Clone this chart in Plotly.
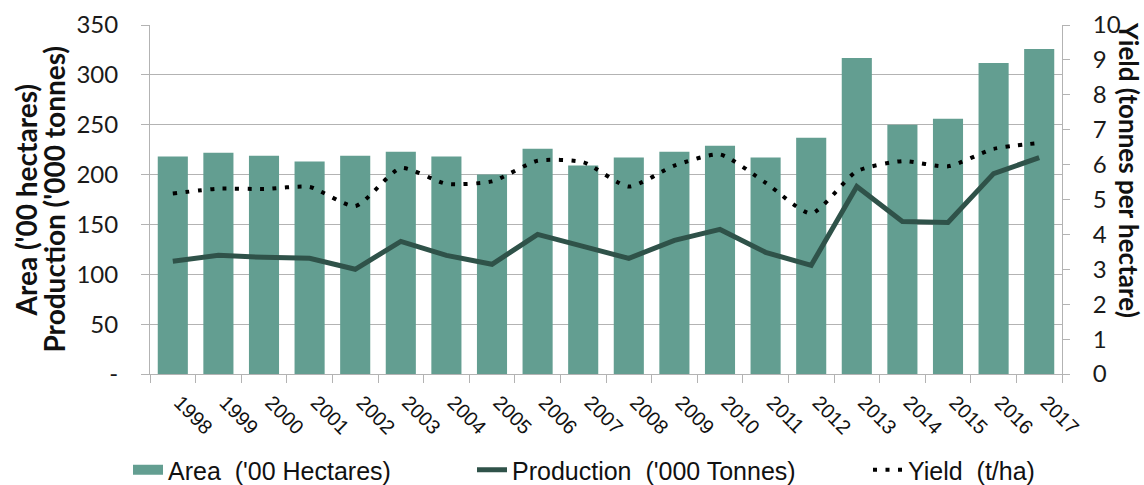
import plotly.graph_objects as go

# Annual series, 1998-2017
years = [str(y) for y in range(1998, 2018)]
area = [218, 222, 219, 213, 219, 223, 218, 200, 226, 209,
        217, 223, 229, 217, 237, 317, 250, 256, 312, 326]
production = [113, 119, 117, 116, 105, 133, 119, 110, 140, 128,
              116, 134, 145, 122, 109, 188, 153, 152, 201, 217]
yield_tha = [5.17, 5.31, 5.30, 5.36, 4.81, 5.90, 5.45, 5.52, 6.11, 6.07,
             5.37, 5.97, 6.29, 5.48, 4.60, 5.81, 6.10, 5.95, 6.45, 6.62]

left_ticks = [0, 50, 100, 150, 200, 250, 300, 350]
left_ticktext = ["-", "50", "100", "150", "200", "250", "300", "350"]
right_ticks = list(range(0, 11))

BAR_COLOR = "#639e91"
PROD_COLOR = "#2f5249"
GRID = "#b3b3b3"
LATO = "Lato, Noto Sans, sans-serif"
ARIAL = "Liberation Sans, Arial, sans-serif"
AXIS_FONT = dict(family=LATO, size=24, color="#1a1a1a")
TITLE_FONT = dict(family=LATO, size=28, color="#111111", weight="bold")
LEGEND_FONT = dict(family=ARIAL, size=25, color="#111111")

fig = go.Figure()

fig.add_trace(go.Bar(
    x=years, y=area, name="Area  ('00 Hectares)",
    marker=dict(color=BAR_COLOR, line=dict(width=0)),
    yaxis="y", legendgroup="area", showlegend=False,
))
# wide flat swatch for the area entry in the legend
fig.add_trace(go.Scatter(
    x=[None], y=[None], name="Area  ('00 Hectares)",
    mode="lines", line=dict(color=BAR_COLOR, width=13),
    legendgroup="area", legend="legend",
))
fig.add_trace(go.Scatter(
    x=years, y=production, name="Production  ('000 Tonnes)",
    mode="lines", line=dict(color=PROD_COLOR, width=5),
    yaxis="y", legend="legend2",
))
fig.add_trace(go.Scatter(
    x=years, y=yield_tha, name="Yield  (t/ha)",
    mode="lines", line=dict(color="#000000", width=4, dash="4px,8.5px",
                            shape="spline", smoothing=0.6),
    yaxis="y2", legend="legend3",
))


def legend_at(px_x):
    # one legend box per series, placed along the bottom row
    return dict(
        orientation="h", xref="container", yref="container",
        x=px_x / 1144, xanchor="left", y=15 / 485, yanchor="middle",
        font=LEGEND_FONT, bgcolor="rgba(0,0,0,0)", itemwidth=30,
    )


fig.update_layout(
    width=1144, height=485,
    margin=dict(l=150, r=82, t=25, b=111, autoexpand=False),
    plot_bgcolor="white", paper_bgcolor="white",
    bargap=0.34,
    showlegend=True,
    legend=legend_at(128),
    legend2=legend_at(472),
    legend3=legend_at(868),
    xaxis=dict(
        type="category", automargin=False,
        tickangle=45,
        ticks="outside", tickson="boundaries", ticklen=8, tickcolor=GRID,
        showline=True, linecolor=GRID, linewidth=1,
        showgrid=False,
        tickfont=dict(family=ARIAL, size=20, color="#111111"),
        ticklabelstandoff=8, ticklabelshift=7,
    ),
    yaxis=dict(
        range=[0, 350], tickvals=left_ticks, ticktext=left_ticktext,
        automargin=False,
        showgrid=True, gridcolor=GRID, gridwidth=1,
        showline=True, linecolor=GRID, linewidth=1,
        ticks="outside", ticklen=8, tickcolor=GRID,
        tickfont=AXIS_FONT, ticklabelstandoff=18,
        zeroline=False,
    ),
    yaxis2=dict(
        range=[0, 10], tickvals=right_ticks,
        automargin=False,
        overlaying="y", side="right",
        showgrid=False,
        showline=True, linecolor=GRID, linewidth=1,
        ticks="outside", ticklen=7, tickcolor=GRID,
        tickfont=AXIS_FONT, ticklabelstandoff=18,
        zeroline=False,
    ),
    annotations=[
        dict(
            text="Area ('00 hectares)",
            xref="paper", yref="paper", x=(25 - 150) / 912, y=0.5,
            xanchor="center", yanchor="middle", textangle=-90,
            showarrow=False, font=TITLE_FONT,
        ),
        dict(
            text="Production ('000 tonnes)",
            xref="paper", yref="paper", x=(53 - 150) / 912, y=0.5,
            xanchor="center", yanchor="middle", textangle=-90,
            showarrow=False, font=TITLE_FONT,
        ),
        dict(
            text="Yield (tonnes per hectare)",
            xref="paper", yref="paper", x=(1129 - 150) / 912, y=(374 - 170) / 349,
            xanchor="center", yanchor="middle", textangle=90,
            showarrow=False,
            font=dict(family=LATO, size=26, color="#111111", weight="bold"),
        ),
    ],
)

fig.write_html("out.html")
